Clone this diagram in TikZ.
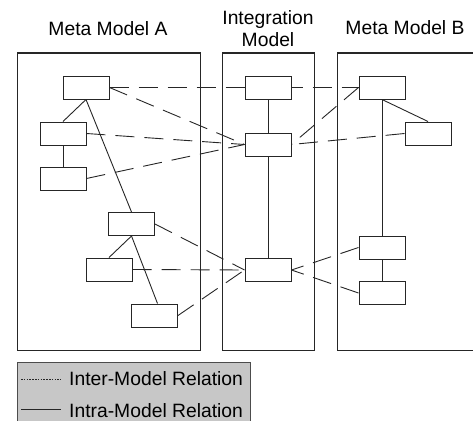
\documentclass[tikz,border=0pt]{standalone}
\usepackage{fontspec}
\setmainfont{Liberation Sans}
\usetikzlibrary{backgrounds}
\begin{document}
\begin{tikzpicture}[x=1pt,y=-1pt,
  every node/.style={font=\fontsize{19.3}{22}\selectfont},
  panel/.style={draw=black!85,line width=1pt},
  box/.style={draw=black!85,fill=white,line width=1pt,minimum width=46pt,minimum height=23pt,inner sep=0pt},
  intra/.style={draw=black!85,line width=0.9pt},
  inter/.style={draw=black!85,line width=0.9pt,dash pattern=on 19pt off 10pt},
  title/.style={anchor=base,inner sep=0pt}]
\useasboundingbox (0,0) rectangle (473,420);
\clip (0,0) rectangle (473,420);
% titles
\node[title] (tA) at (108,36) {Meta Model A};
\node[title] (tI1) at (268,25) {Integration};
\node[title] (tI2) at (268,47) {Model};
\node[title] (tB) at (405,35) {Meta Model B};
% nodes
\node[box] (a1) at (86,87.5) {};
\node[box] (a2) at (63,133.5) {};
\node[box] (a3) at (63,178.5) {};
\node[box] (a4) at (131.5,224) {};
\node[box] (a5) at (109,269.5) {};
\node[box] (a6) at (154.5,315.5) {};
\node[box] (i1) at (268,87.5) {};
\node[box] (i2) at (268,144.5) {};
\node[box] (i3) at (268,270) {};
\node[box] (b1) at (382,87.5) {};
\node[box] (b2) at (428,133.5) {};
\node[box] (b3) at (382,247.5) {};
\node[box] (b4) at (382,293) {};
\begin{scope}[on background layer]
% panels
\draw[panel] (17,53) rectangle (200,350);
\draw[panel] (222,53) rectangle (314,350);
\draw[panel] (337,53) rectangle (490,350);
% inter-model relations
\draw[inter] (a1.east) -- (b1.west);
\draw[inter] (a1.east) -- (i2.west);
\draw[inter] (a2.east) -- (i2.west);
\draw[inter] (a3.east) -- (i2.west);
\draw[inter] (b1.west) -- (i2.east);
\draw[inter] (b2.west) -- (i2.east);
\draw[inter] (a4.east) -- (i3.west);
\draw[inter] (a5.east) -- (i3.west);
\draw[inter] (a6.east) -- (i3.west);
\draw[inter] (b3.west) -- (i3.east);
\draw[inter] (b4.west) -- (i3.east);
% intra-model relations
\draw[intra] (a1.south) -- (a2.north);
\draw[intra] (a2.south) -- (a3.north);
\draw[intra] (a1.south) -- (a4.north);
\draw[intra] (a4.south) -- (a5.north);
\draw[intra] (a4.south) -- ([xshift=3pt]a6.north);
\draw[intra] (i1.south) -- (i2.north);
\draw[intra] (i2.south) -- (i3.north);
\draw[intra] (b1.south) -- (b2.north);
\draw[intra] (b1.south) -- (b3.north);
\draw[intra] (b3.south) -- (b4.north);
\end{scope}
% legend
\draw[draw=black!70,fill=black!22,line width=1pt] (17,362) rectangle (250,430);
\coordinate (l1a) at (21,379);
\coordinate (l1b) at (61,379);
\coordinate (l2a) at (21,409);
\coordinate (l2b) at (61,409);
\draw[black!85,line width=0.5pt,dash pattern=on 1.6pt off 1.2pt] (l1a) -- (l1b);
\draw[black!85,line width=0.9pt] (l2a) -- (l2b);
\node[anchor=base west,inner sep=0pt] (lt1) at (69,385) {Inter-Model Relation};
\node[anchor=base west,inner sep=0pt] (lt2) at (69,417) {Intra-Model Relation};
\end{tikzpicture}
\end{document}
